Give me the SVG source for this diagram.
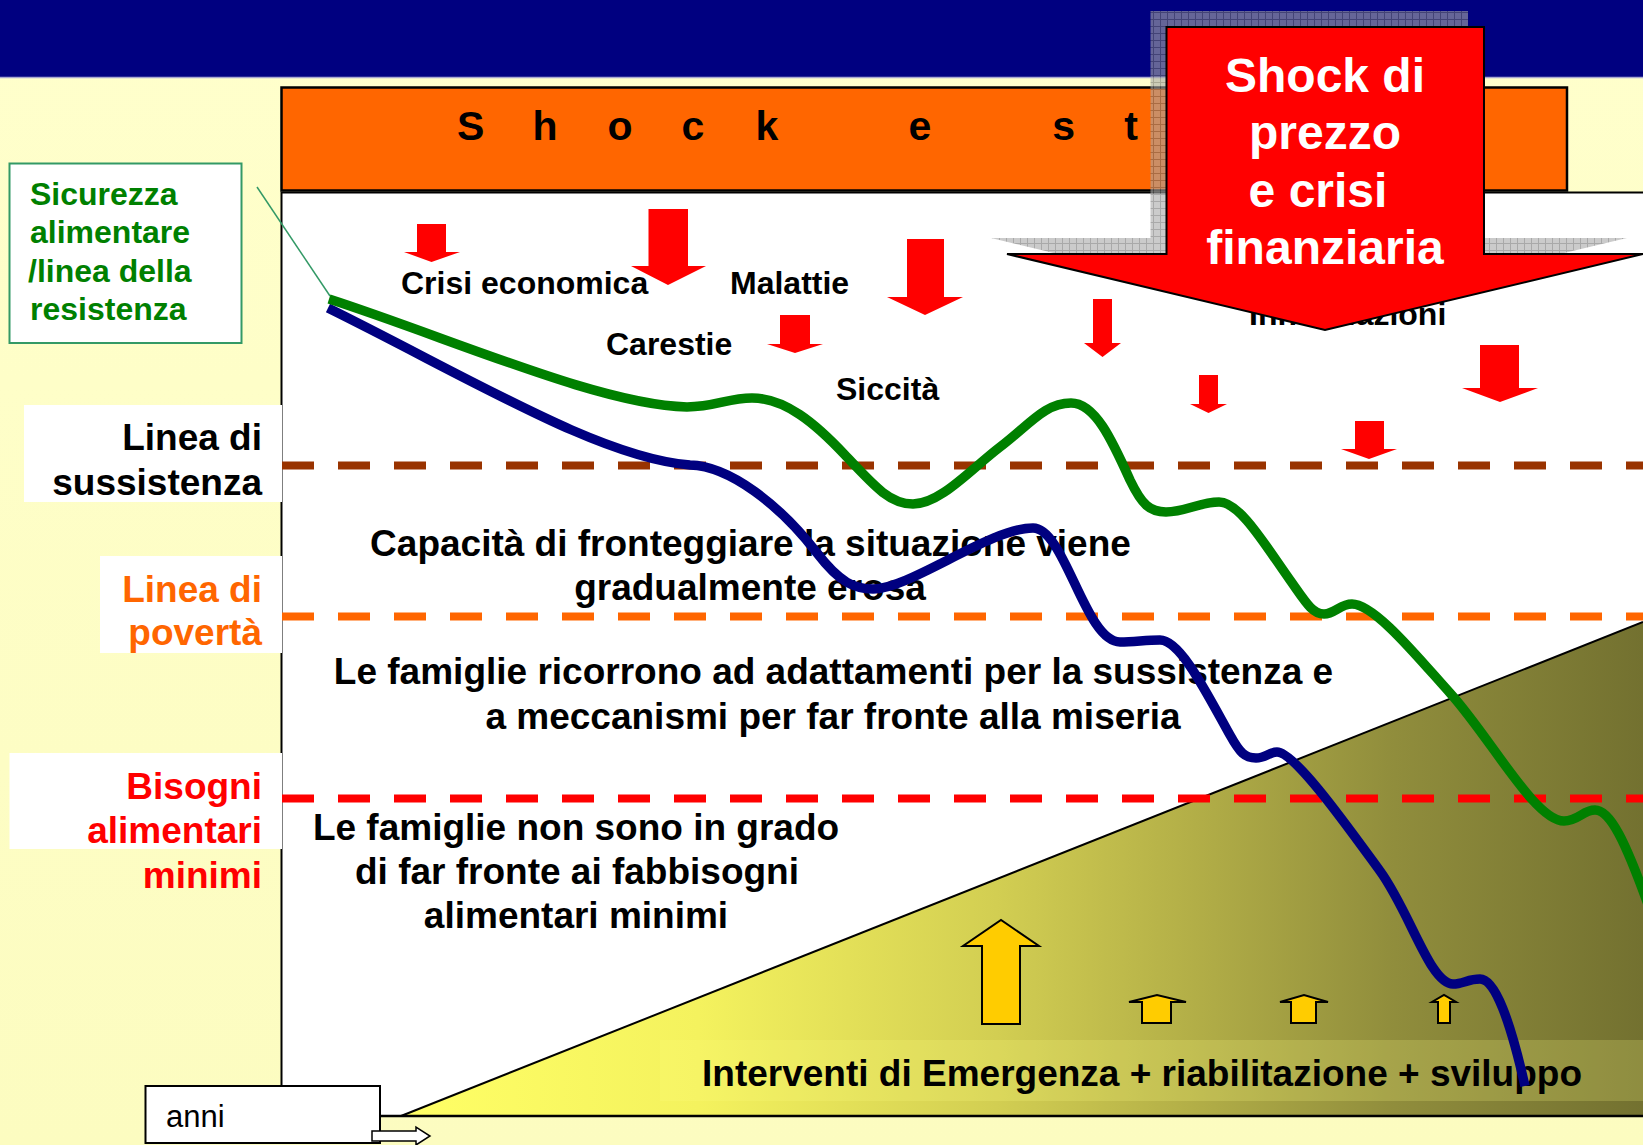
<svg xmlns="http://www.w3.org/2000/svg" width="1643" height="1145" viewBox="0 0 1643 1145">
<defs>
<style>
text{font-family:"Liberation Sans",Arial,Helvetica,sans-serif;font-weight:bold}
.bar{font-size:41px;fill:#000}
.lbl{font-size:32px;fill:#000}
.body{font-size:37px;fill:#000;text-anchor:middle}
.side{font-size:37px;text-anchor:end}
.sic{font-size:32px;fill:#008000}
.big{font-size:48px;fill:#fff;text-anchor:middle}
.anni{font-size:31px;font-weight:normal;fill:#000}
.redarr{fill:#FF0000}
.yarr{fill:#FFCC00;stroke:#000;stroke-width:2;stroke-linejoin:miter}
.dash{fill:none;stroke-width:8;stroke-dasharray:32 24}
.curve{fill:none;stroke-width:9.5;stroke-linecap:butt;stroke-linejoin:round}
</style>
<linearGradient id="bg" x1="0" y1="0" x2="0" y2="1">
<stop offset="0" stop-color="#FFFFCC"/>
<stop offset="1" stop-color="#FCFCC0"/>
</linearGradient>
<linearGradient id="tri" gradientUnits="userSpaceOnUse" x1="401" y1="0" x2="1643" y2="0">
<stop offset="0" stop-color="#FFFF66"/>
<stop offset="0.24" stop-color="#F4F25E"/>
<stop offset="0.48" stop-color="#D2CE52"/>
<stop offset="0.64" stop-color="#B2AE47"/>
<stop offset="0.8" stop-color="#908D3C"/>
<stop offset="1" stop-color="#737130"/>
</linearGradient>
<pattern id="hatch" patternUnits="userSpaceOnUse" width="7" height="7">
<rect width="7" height="7" fill="#A8A8A8"/>
<path d="M0 0.5H7M0.5 0V7" stroke="#707070" stroke-width="1"/>
</pattern>
</defs>

<rect width="1643" height="1145" fill="url(#bg)"/>

<g id="header">
<rect x="0" y="0" width="1643" height="77" fill="#000080"/>
<line x1="0" y1="77.5" x2="1643" y2="77.5" stroke="#A8A8D0" stroke-width="1.5"/>
</g>

<g id="shock-bar">
<rect x="281.5" y="87.5" width="1285.5" height="103" fill="#FF6600" stroke="#000" stroke-width="2.5"/>
<text class="bar" x="470.7 545 620 693 767 843 920 992 1063.6 1131" y="140" text-anchor="middle">Shock e st</text>
</g>

<g id="panel">
<rect x="282" y="192" width="1361" height="924" fill="#fff"/>
<path d="M281.5 1086V192.5H1643" fill="none" stroke="#000" stroke-width="2"/>
</g>

<g id="label-sussistenza">
<rect x="24" y="405" width="258" height="97" fill="#fff"/>
<text class="side" fill="#000" x="262" y="450">Linea di</text>
<text class="side" fill="#000" x="262" y="495">sussistenza</text>
</g>
<g id="label-poverta">
<rect x="100" y="556" width="182" height="97" fill="#fff"/>
<text class="side" fill="#FF6600" x="262" y="601.5">Linea di</text>
<text class="side" fill="#FF6600" x="262" y="645">povertà</text>
</g>
<g id="label-bisogni">
<rect x="9.5" y="753" width="272.5" height="96" fill="#fff"/>
<text class="side" fill="#FF0000" x="262" y="798.5">Bisogni</text>
<text class="side" fill="#FF0000" x="262" y="843">alimentari</text>
<text class="side" fill="#FF0000" x="262" y="887.5">minimi</text>
</g>

<g id="sicurezza">
<rect x="9.5" y="163.5" width="232" height="179.5" fill="#fff" stroke="#339966" stroke-width="2"/>
<text class="sic" x="30" y="204.5">Sicurezza</text>
<text class="sic" x="30" y="243">alimentare</text>
<text class="sic" x="28" y="281.5">/linea della</text>
<text class="sic" x="30" y="320">resistenza</text>
</g>

<g id="interventi">
<polygon points="401,1116 1643,622 1643,1116" fill="url(#tri)"/>
<line x1="401" y1="1116" x2="1643" y2="622" stroke="#000" stroke-width="2"/>
<rect x="660" y="1040" width="983" height="61" fill="#FFFF80" opacity="0.2"/>
<path class="yarr" d="M982 1024V946H963L1001 920L1039 946H1020V1024Z"/>
<path class="yarr" d="M1142 1023V1002H1129L1157 995L1186 1002H1171V1023Z"/>
<path class="yarr" d="M1291 1023V1002H1280L1304 995L1328 1002H1316V1023Z"/>
<path class="yarr" d="M1438 1023V1002H1432L1444 995L1456 1002H1450V1023Z"/>
<text class="body" style="text-anchor:start" x="702" y="1086">Interventi di Emergenza + riabilitazione + sviluppo</text>
</g>

<g id="baseline">
<line x1="380" y1="1116" x2="1643" y2="1116" stroke="#000" stroke-width="2.5"/>
</g>

<g id="thresholds">
<path class="dash" stroke="#993300" d="M282 465.5H1643"/>
<path class="dash" stroke="#FF6600" d="M282 616.5H1643"/>
<path class="dash" stroke="#FF0000" d="M282 798.5H1643"/>
</g>

<g id="zone-texts">
<text class="body" x="750.5" y="555.5">Capacità di fronteggiare la situazione viene</text>
<text class="body" x="750" y="600">gradualmente erosa</text>
<text class="body" x="833.5" y="684">Le famiglie ricorrono ad adattamenti per la sussistenza e</text>
<text class="body" x="833" y="728.5">a meccanismi per far fronte alla miseria</text>
<text class="body" x="576" y="840">Le famiglie non sono in grado</text>
<text class="body" x="577" y="884">di far fronte ai fabbisogni</text>
<text class="body" x="576" y="928">alimentari minimi</text>
</g>

<g id="shocks">
<path class="redarr" d="M417 224H446V252H460L431.5 262L404 252H417Z"/>
<path class="redarr" d="M648.5 209H688V266H706L668 285L631 266H648.5Z"/>
<path class="redarr" d="M780 315H810V344H823L795 353L767 344H780Z"/>
<path class="redarr" d="M907 239H944V297H963L925 315L887 297H907Z"/>
<path class="redarr" d="M1093 299H1112V343H1121L1102.5 357L1084 343H1093Z"/>
<path class="redarr" d="M1199 375H1218V404H1227L1208.5 413L1190 404H1199Z"/>
<path class="redarr" d="M1480 345H1519V388H1538L1500 402L1462 388H1480Z"/>
<path class="redarr" d="M1355 421H1384V449H1397L1369 459L1341 449H1355Z"/>
<text class="lbl" x="401" y="294">Crisi economica</text>
<text class="lbl" x="730" y="294">Malattie</text>
<text class="lbl" x="606" y="355">Carestie</text>
<text class="lbl" x="836" y="400">Siccità</text>
<text class="lbl" x="1249" y="325">Innondazioni</text>
</g>

<g id="connectors">
<line x1="257" y1="187" x2="330" y2="296" stroke="#339966" stroke-width="1.5"/>
</g>

<g id="curve-blue">
<path class="curve" stroke="#000080" d="M328 308C470 378 600 458 690 465C730 466 780 505 817 553C840 583 855 589 873 589C910 589 990 528 1033 528C1065 528 1085 642 1120 642C1135 642 1145 640 1160 640C1180 640 1205 690 1230 735C1240 753 1245 758 1256 758C1265 758 1270 752 1277 752C1295 752 1350 830 1380 871C1410 912 1430 984 1453 984C1463 984 1468 979 1480 979C1495 979 1510 1020 1525 1086"/>
</g>
<g id="curve-green">
<path class="curve" stroke="#008000" d="M329 299C450 338 600 405 687 407C715 407 728 398 752 398C785 398 815 423 845 455C875 487 890 504 913 504C940 504 970 470 1000 447C1030 424 1045 403 1071 403C1095 403 1112 440 1130 480C1142 505 1150 512 1166 512C1185 512 1200 502 1219 502C1240 502 1265 545 1290 580C1305 601 1312 614 1324 614C1335 614 1340 604 1352 604C1375 604 1420 660 1450 693C1490 737 1535 821 1564 821C1578 821 1583 810 1595 810C1610 810 1625 840 1650 910"/>
</g>

<g id="price-shock">
<path d="M1166.5 27H1484V254H1643L1325 330L1007 254H1166.5Z" transform="translate(-16,-16)" fill="url(#hatch)" opacity="0.6"/>
<path d="M1166.5 27H1484V254H1643L1325 330L1007 254H1166.5Z" fill="#FF0000" stroke="#000" stroke-width="2"/>
<text class="big" x="1325" y="91.5">Shock di</text>
<text class="big" x="1325" y="148.5">prezzo</text>
<text class="big" x="1318" y="206.5">e crisi</text>
<text class="big" x="1325" y="264">finanziaria</text>
</g>

<g id="anni">
<rect x="145.5" y="1086" width="234.5" height="57" fill="#fff" stroke="#000" stroke-width="2"/>
<text class="anni" x="166" y="1127">anni</text>
<path d="M372 1131H416V1127L430 1136L416 1145V1141H372Z" fill="#fff" stroke="#000" stroke-width="1.5"/>
</g>
</svg>
